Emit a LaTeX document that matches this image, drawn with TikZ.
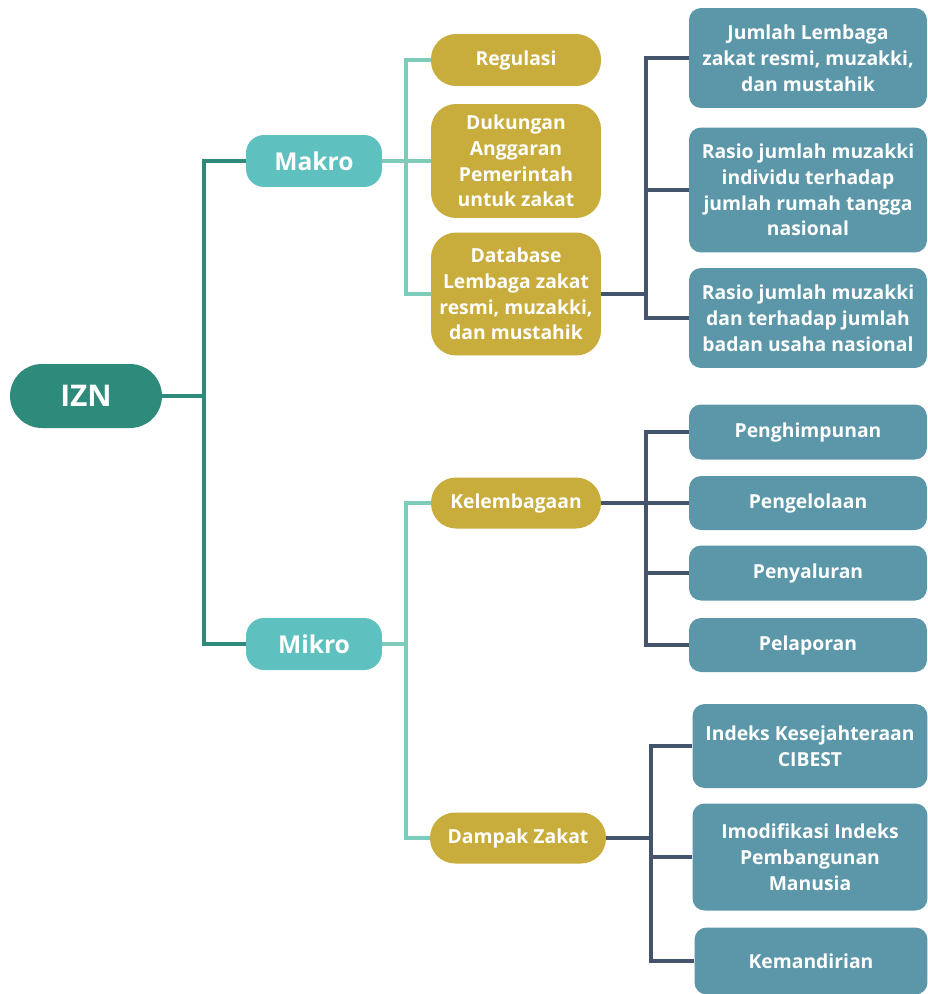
\documentclass[tikz,border=0pt]{standalone}
\usepackage{fontspec}
\setmainfont{Open Sans}
\usetikzlibrary{arrows.meta}
\definecolor{izncol}{HTML}{2E8A7A}
\definecolor{levelcol}{HTML}{5FC1BF}
\definecolor{goldcol}{HTML}{C8AC3C}
\definecolor{boxcol}{HTML}{5B97A8}
\definecolor{lightline}{HTML}{7ECBBA}
\definecolor{slateline}{HTML}{44546A}

\begin{document}
\begin{tikzpicture}[x=0.02cm,y=-0.02cm,
    every node/.style={text=white, align=center, inner sep=0pt},
    rootbox/.style={fill=izncol, rounded corners=0.64cm, minimum width=3.04cm, minimum height=1.28cm,
        font=\fontsize{17}{20}\selectfont\bfseries},
    levelbox/.style={fill=levelcol, rounded corners=0.36cm, minimum width=2.72cm, minimum height=1.04cm,
        font=\fontsize{14}{17}\selectfont\bfseries},
    goldbox/.style={fill=goldcol, rounded corners=0.5cm, minimum width=3.4cm,
        font=\fontsize{11}{14.7}\selectfont\bfseries},
    leafbox/.style={fill=boxcol, rounded corners=0.24cm, minimum width=4.76cm,
        font=\fontsize{11}{14.7}\selectfont\bfseries},
    trunk/.style={draw=izncol, line width=2.1pt},
    twig/.style={draw=lightline, line width=2.1pt},
    leafline/.style={draw=slateline, line width=2.1pt}]
\useasboundingbox (0,0) rectangle (927,994);

% root and levels
\node[rootbox] (izn) at (86,396) {IZN};
\node[levelbox] (makro) at (314,161) {Makro};
\node[levelbox] (mikro) at (314,644) {Mikro};

% makro side
\node[goldbox, minimum height=1.04cm] (regulasi) at (516,60) {Regulasi};
\node[goldbox, minimum height=2.28cm] (dukungan) at (516,161) {Dukungan\\Anggaran\\Pemerintah\\untuk zakat};
\node[goldbox, minimum height=2.46cm] (database) at (516,294) {Database\\Lembaga zakat\\resmi, muzakki,\\dan mustahik};

\node[leafbox, minimum height=2.0cm] (jumlah) at (808,58) {Jumlah Lembaga\\zakat resmi, muzakki,\\dan mustahik};
\node[leafbox, minimum height=2.5cm] (rasioa) at (808,190) {Rasio jumlah muzakki\\individu terhadap\\jumlah rumah tangga\\nasional};
\node[leafbox, minimum height=2.0cm] (rasiob) at (808,318) {Rasio jumlah muzakki\\dan terhadap jumlah\\badan usaha nasional};

% mikro side
\node[goldbox, minimum height=1.02cm] (lembaga) at (516,503) {Kelembagaan};
\node[goldbox, minimum width=3.52cm, minimum height=1.02cm] (dampak) at (518,838) {Dampak Zakat};

\node[leafbox, minimum height=1.1cm] (himpun) at (808,432) {Penghimpunan};
\node[leafbox, minimum height=1.08cm] (kelola) at (808,503) {Pengelolaan};
\node[leafbox, minimum height=1.1cm] (salur) at (808,573) {Penyaluran};
\node[leafbox, minimum height=1.08cm] (lapor) at (808,645) {Pelaporan};

\node[leafbox, minimum width=4.7cm, minimum height=1.68cm] (cibest) at (810,746) {Indeks Kesejahteraan\\CIBEST};
\node[leafbox, minimum width=4.7cm, minimum height=2.14cm] (ipm) at (810,857) {Imodifikasi Indeks\\Pembangunan\\Manusia};
\node[leafbox, minimum width=4.66cm, minimum height=1.34cm] (mandiri) at (811,961) {Kemandirian};

% connectors
\draw[trunk] (izn.east) -- ++(42,0) coordinate (tk);
\draw[trunk] (tk) |- (makro.west);
\draw[trunk] (tk) |- (mikro.west);

\draw[twig] (makro.east) -- ++(24,0) coordinate (mk);
\foreach \n in {regulasi,dukungan,database}
    \draw[twig] (mk) |- (\n.west);
\draw[twig] (mikro.east) -- ++(24,0) coordinate (mi);
\foreach \n in {lembaga,dampak}
    \draw[twig] (mi) |- (\n.west);

\draw[leafline] (database.east) -- ++(45,0) coordinate (db);
\foreach \n in {jumlah,rasioa,rasiob}
    \draw[leafline] (db) |- (\n.west);
\draw[leafline] (lembaga.east) -- ++(45,0) coordinate (lb);
\foreach \n in {himpun,kelola,salur,lapor}
    \draw[leafline] (lb) |- (\n.west);
\draw[leafline] (dampak.east) -- ++(45,0) coordinate (dz);
\foreach \n in {cibest,ipm,mandiri}
    \draw[leafline] (dz) |- (\n.west);
\end{tikzpicture}
\end{document}
